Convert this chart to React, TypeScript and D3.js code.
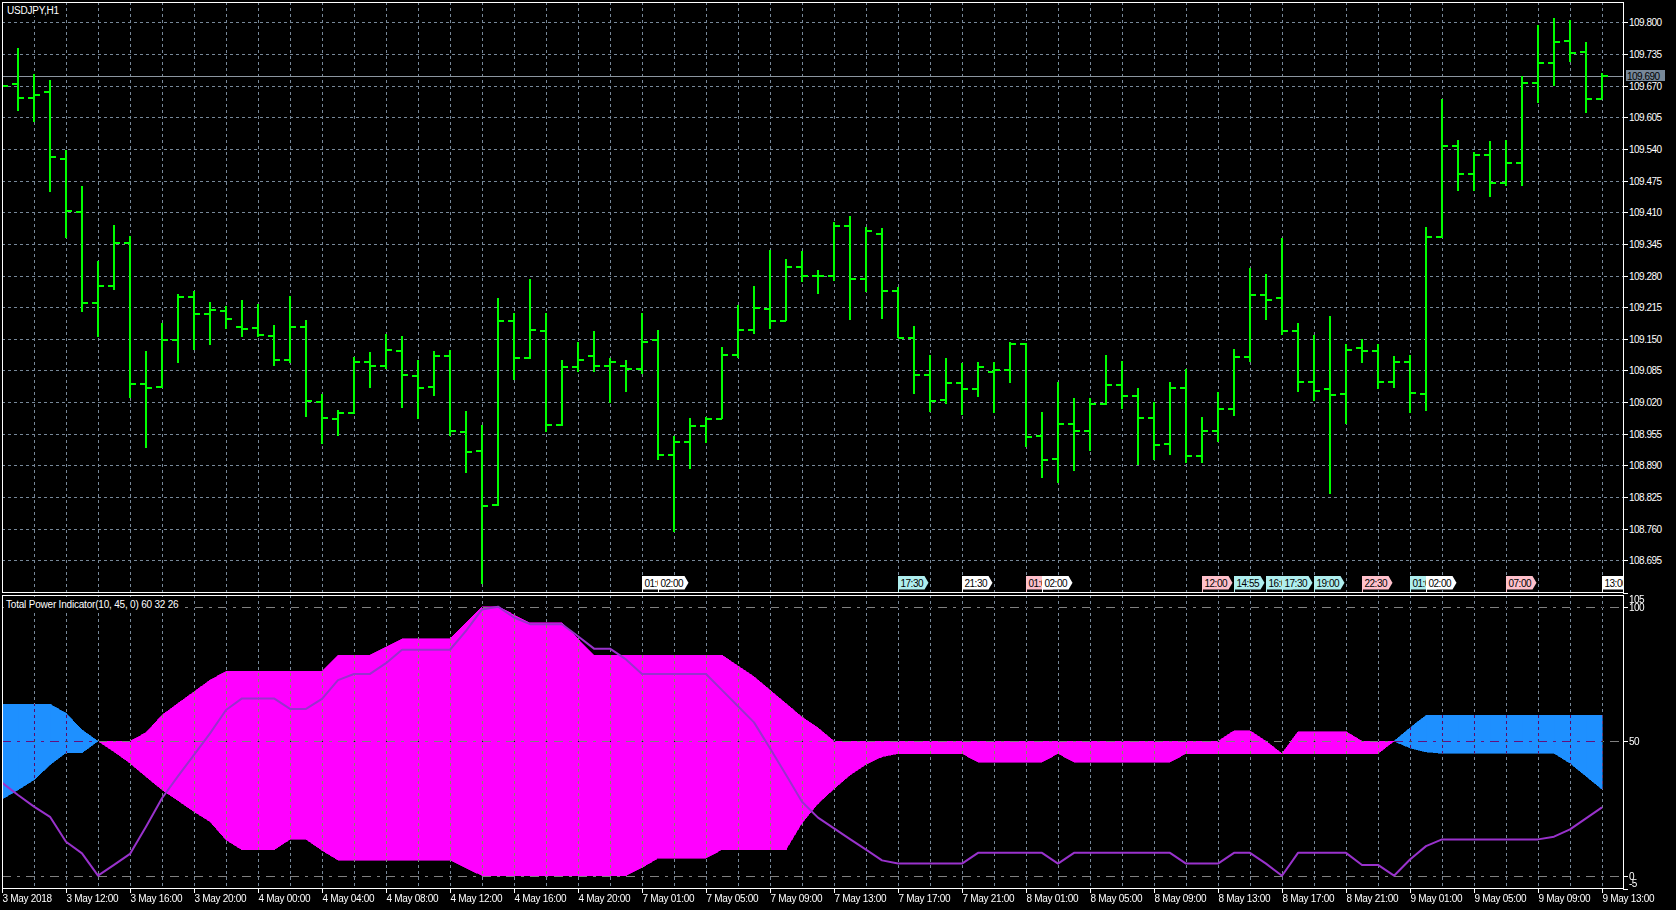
import React from "react";
import * as d3 from "d3";

// ---------- price data (USDJPY H1, 101 bars) ----------
const opens = [109.668,109.673,109.644,109.658,109.520,109.411,109.224,109.259,109.347,109.057,109.051,109.147,109.236,109.201,109.207,109.175,109.173,109.156,109.106,109.175,109.021,108.986,108.997,109.103,109.094,109.125,109.074,109.051,109.115,108.959,108.920,108.808,109.186,109.111,109.166,108.973,109.093,109.115,109.094,109.094,109.088,109.147,108.911,108.939,108.970,108.986,109.117,109.168,109.212,109.187,109.298,109.280,109.280,109.381,109.272,109.366,109.248,109.152,109.075,109.024,109.059,109.046,109.082,109.086,109.139,108.951,108.903,108.975,108.961,109.016,109.055,109.033,108.988,108.934,109.049,108.910,108.960,109.005,109.112,109.241,109.234,109.167,109.062,109.046,109.037,109.132,109.125,109.061,109.102,109.036,109.359,109.547,109.489,109.527,109.470,109.511,109.676,109.716,109.761,109.740,109.643];
const highs = [109.690,109.747,109.694,109.682,109.537,109.465,109.309,109.383,109.361,109.125,109.183,109.243,109.249,109.225,109.218,109.229,109.222,109.178,109.238,109.188,109.037,109.004,109.113,109.123,109.161,109.156,109.106,109.125,109.128,109.002,108.973,109.233,109.204,109.274,109.204,109.106,109.143,109.166,109.110,109.106,109.204,109.169,108.950,108.987,108.990,109.134,109.219,109.258,109.332,109.315,109.331,109.292,109.390,109.402,109.380,109.378,109.257,109.177,109.116,109.110,109.101,109.103,109.103,109.144,109.141,109.000,109.061,109.028,109.028,109.116,109.105,109.049,109.020,109.061,109.088,108.989,109.040,109.130,109.295,109.284,109.357,109.183,109.158,109.196,109.139,109.150,109.139,109.114,109.117,109.380,109.643,109.558,109.533,109.556,109.558,109.691,109.795,109.810,109.805,109.760,109.697];
const lows = [109.655,109.619,109.596,109.452,109.357,109.205,109.154,109.251,109.028,108.926,109.050,109.101,109.127,109.137,109.171,109.154,109.154,109.095,109.100,108.990,108.933,108.951,108.995,109.050,109.089,109.007,108.985,109.033,108.951,108.874,108.647,108.807,109.065,109.108,108.958,108.971,109.082,109.082,109.019,109.040,109.078,108.901,108.754,108.883,108.937,108.986,109.110,109.161,109.171,109.187,109.267,109.242,109.268,109.189,109.247,109.191,109.152,109.037,108.999,109.016,108.993,109.031,108.998,109.059,108.927,108.865,108.854,108.879,108.920,109.015,109.005,108.890,108.901,108.912,108.895,108.894,108.939,108.991,109.103,109.188,109.158,109.041,109.022,108.832,108.976,109.101,109.046,109.049,108.998,109.002,109.357,109.453,109.453,109.442,109.465,109.465,109.634,109.669,109.718,109.615,109.643];
const closes = [109.669,109.644,109.652,109.524,109.412,109.224,109.259,109.347,109.057,109.050,109.147,109.236,109.201,109.209,109.191,109.171,109.158,109.106,109.175,109.023,108.987,108.997,109.103,109.094,109.127,109.075,109.050,109.115,108.961,108.918,108.807,109.187,109.111,109.168,108.973,109.093,109.106,109.094,109.103,109.088,109.143,108.911,108.939,108.971,108.986,109.117,109.168,109.214,109.187,109.298,109.279,109.280,109.381,109.274,109.371,109.248,109.152,109.075,109.022,109.059,109.046,109.092,109.086,109.139,108.949,108.901,108.975,108.960,109.016,109.055,109.033,108.988,108.932,109.049,108.910,108.960,109.005,109.112,109.241,109.229,109.167,109.062,109.043,109.035,109.128,109.125,109.061,109.102,109.038,109.359,109.547,109.489,109.527,109.470,109.511,109.676,109.716,109.760,109.738,109.643,109.690];
const currentPrice = 109.690;

// ---------- indicator data ----------
const bulls = [63.8,63.8,63.8,63.8,60.4,54.2,50,46.1,41.8,36.8,31.9,27.9,23.8,20.1,13.3,9.6,9.6,9.6,13.5,13.5,9.4,5.8,5.8,5.8,5.8,5.8,5.8,5.8,5.8,2.9,0,0,0,0,0,0,0,0,0,0,3,6.5,6.5,6.5,6.5,9.7,9.7,9.7,9.7,9.7,19.6,26.8,32.3,37.4,41.4,44.2,45.4,45.4,45.4,45.4,45.4,42.2,42.2,42.2,42.2,42.2,45.4,42.2,42.2,42.2,42.2,42.2,42.2,42.2,45.4,45.4,45.4,45.4,45.4,45.4,45.4,45.4,45.4,45.4,45.4,45.4,45.4,50,55,59.6,59.6,59.6,59.6,59.6,59.6,59.6,59.6,59.6,59.6,59.6,59.6];
const bears = [28.4,31.9,35.6,41.2,45.7,45.7,50,50,50,53.2,59.7,64.1,68.4,72.7,76,76,76,76,76,76,76,82,82,82,85,88,88,88,88,94,100,100,97,94,94,94,88,82,82,82,82,82,82,82,82,82,78,74,69,64,59,55,50,50,50,50,50,50,50,50,50,50,50,50,50,50,50,50,50,50,50,50,50,50,50,50,50,53.9,53.9,50,45.4,53.6,53.6,53.6,53.6,50,50,50,47.5,46,45.5,45.5,45.5,45.5,45.5,45.5,45.5,45.5,41.8,37,32.1];
const power = [34.6,30,25.7,21.9,12.6,8.3,0,4,8.1,18.2,28.8,37,44.9,52.9,61.6,65.9,65.9,65.9,62,62,65.7,72.7,75,75,79,84,84,84,84,91,99,100,96,93.5,93.5,93.5,89,84.4,84.4,80.4,75,75,75,75,75,69,63,57,47.4,37.5,27.5,21.6,17.6,13.6,9.7,5.7,4.5,4.5,4.5,4.5,4.5,8.5,8.5,8.5,8.5,8.5,4.5,8.5,8.5,8.5,8.5,8.5,8.5,8.5,4.5,4.5,4.5,8.5,8.5,4.5,0,8.5,8.5,8.5,8.5,4,4,0,6,11,13.5,13.5,13.5,13.5,13.5,13.5,13.5,14.5,17.2,21.3,25.4];

// ---------- axis labels ----------
const timeLabels = ["3 May 2018","3 May 12:00","3 May 16:00","3 May 20:00","4 May 00:00","4 May 04:00","4 May 08:00","4 May 12:00","4 May 16:00","4 May 20:00","7 May 01:00","7 May 05:00","7 May 09:00","7 May 13:00","7 May 17:00","7 May 21:00","8 May 01:00","8 May 05:00","8 May 09:00","8 May 13:00","8 May 17:00","8 May 21:00","9 May 01:00","9 May 05:00","9 May 09:00","9 May 13:00"];
const priceTicks = [109.800,109.735,109.670,109.605,109.540,109.475,109.410,109.345,109.280,109.215,109.150,109.085,109.020,108.955,108.890,108.825,108.760,108.695];
const indTicks = [105,100,50,0,-5];
const levels = [100,50,0];

// ---------- event markers ----------
const eventBars = [40,41,56,60,64,65,75,77,79,80,82,85,88,89,94,100];
const eventTexts = ["01:00","02:00","17:30","21:30","01:00","02:00","12:00","14:55","16:00","17:30","19:00","22:30","01:00","02:00","07:00","13:00"];
const eventKinds = ["w","w","c","w","p","w","p","c","c","c","c","p","c","w","p","w"];

const KIND_COL: Record<string, string> = { w: "#ffffff", c: "#afeeee", p: "#ffc0cb" };

const PL = 2, PR = 1623, PT = 2, PB = 592, IT = 595, IB = 888;
const GRID = "#778899";
const BLUE = "#1e90ff";
const MAG = "#ff00ff";

export default function App() {
  const x = d3.scaleLinear().domain([0, 100]).range([2, 1602]);
  const yP = d3.scaleLinear().domain([108.6299, 109.8421]).range([592, 2]);
  const yI = d3.scaleLinear().domain([-5, 105]).range([889.15, 593.25]);

  const gridX = d3.range(2, 101, 2).map((b) => Math.round(x(b)) + 0.5);

  // indicator fill polygons
  const polys: { d: string; c: string }[] = [];
  for (let k = 0; k < bulls.length - 1; k++) {
    const d0 = bulls[k] - bears[k];
    const d1 = bulls[k + 1] - bears[k + 1];
    const x0 = x(k), x1 = x(k + 1);
    if (d0 * d1 >= 0) {
      if (d0 === 0 && d1 === 0) continue;
      const c = d0 + d1 > 0 ? BLUE : MAG;
      const pts: [number, number][] = [
        [x0, yI(bulls[k])], [x1, yI(bulls[k + 1])], [x1, yI(bears[k + 1])], [x0, yI(bears[k])],
      ];
      polys.push({ d: "M" + pts.map((p) => p.join(",")).join("L") + "Z", c });
    } else {
      const t = d0 / (d0 - d1);
      const xm = x0 + t * (x1 - x0);
      const vm = bulls[k] + t * (bulls[k + 1] - bulls[k]);
      const a: [number, number][] = [[x0, yI(bulls[k])], [xm, yI(vm)], [x0, yI(bears[k])]];
      const b: [number, number][] = [[xm, yI(vm)], [x1, yI(bulls[k + 1])], [x1, yI(bears[k + 1])]];
      polys.push({ d: "M" + a.map((p) => p.join(",")).join("L") + "Z", c: d0 > 0 ? BLUE : MAG });
      polys.push({ d: "M" + b.map((p) => p.join(",")).join("L") + "Z", c: d1 > 0 ? BLUE : MAG });
    }
  }

  const powerLine = d3
    .line<number>()
    .x((_, i) => x(i))
    .y((v) => yI(v))(power) as string;

  const font = "'Liberation Sans', Arial, sans-serif";

  return (
    <div style={{ position: "absolute", left: 0, top: 0 }}>
      <svg width={1676} height={910} style={{ display: "block", background: "#000" }} fontFamily={font} fontSize={10}>
        <defs>
          <clipPath id="pclip">
            <rect x={PL} y={PT} width={PR - PL} height={PB - PT} />
          </clipPath>
          <clipPath id="iclip">
            <rect x={PL} y={IT} width={PR - PL} height={IB - IT} />
          </clipPath>
        </defs>
        <rect x={0} y={0} width={1676} height={910} fill="#000" />

        {/* ---------- price pane ---------- */}
        <g clipPath="url(#pclip)">
          <g stroke={GRID} strokeWidth={1} strokeDasharray="3,3" shapeRendering="crispEdges">
            {gridX.map((gx, i) => (
              <line key={"vx" + i} x1={gx} x2={gx} y1={PT} y2={PB} />
            ))}
            {priceTicks.map((t, i) => {
              const yy = Math.round(yP(t)) + 0.5;
              return <line key={"hy" + i} x1={PL} x2={PR} y1={yy} y2={yy} />;
            })}
          </g>
          <line x1={PL} x2={PR} y1={Math.round(yP(currentPrice)) + 0.5} y2={Math.round(yP(currentPrice)) + 0.5} stroke="#8c96a0" strokeWidth={1} shapeRendering="crispEdges" />
          <g fill="#00ff00" shapeRendering="crispEdges">
            {opens.map((o, k) => {
              const cx = Math.round(x(k));
              const yh = Math.round(yP(highs[k]));
              const yl = Math.round(yP(lows[k]));
              const yo = Math.round(yP(o));
              const yc = Math.round(yP(closes[k]));
              return (
                <g key={"b" + k}>
                  <rect x={cx - 1} y={yh} width={2} height={Math.max(2, yl - yh)} />
                  <rect x={cx - 6} y={yo - 1} width={6} height={2} />
                  <rect x={cx} y={yc - 1} width={6} height={2} />
                </g>
              );
            })}
          </g>
          {/* event markers */}
          <g>
            {eventBars.map((b, i) => {
              const bx = Math.round(x(b)) + 0.5;
              const top = 576, bot = 589.5, w = 26;
              const col = KIND_COL[eventKinds[i]];
              return (
                <g key={"ev" + i}>
                  <path d={`M${bx},${top}H${bx + w}L${bx + w + 4},${(top + bot) / 2}L${bx + w},${bot}H${bx}Z`} fill={col} />
                  <line x1={bx} x2={bx} y1={top} y2={PB} stroke={col} strokeWidth={1} />
                  <text x={bx + 2} y={586.5} fill="#000" letterSpacing="-0.5">{eventTexts[i]}</text>
                </g>
              );
            })}
          </g>
          <rect x={4} y={3} width={58} height={13} fill="#000" />
          <text x={7} y={13.5} fill="#fff" letterSpacing="-0.2">USDJPY,H1</text>
        </g>
        <rect x={PL + 0.5} y={PT + 0.5} width={PR - PL} height={PB - PT} fill="none" stroke="#fff" strokeWidth={1} shapeRendering="crispEdges" />

        {/* price axis */}
        <g fill="#fff" letterSpacing="-0.5">
          {priceTicks.map((t, i) => {
            const yy = Math.round(yP(t)) + 0.5;
            return (
              <g key={"pt" + i}>
                <line x1={PR} x2={PR + 5} y1={yy} y2={yy} stroke="#fff" shapeRendering="crispEdges" />
                <text x={PR + 6} y={yy} dy="0.35em">{t.toFixed(3)}</text>
              </g>
            );
          })}
        </g>
        <rect x={1626} y={70} width={39} height={11} fill="#778899" />
        <text x={1627} y={yP(currentPrice)} dy="0.35em" fill="#000" letterSpacing="-0.5">{currentPrice.toFixed(3)}</text>

        {/* ---------- indicator pane ---------- */}
        <g clipPath="url(#iclip)">
          <g shapeRendering="crispEdges">
            {polys.map((p, i) => (
              <path key={"pf" + i} d={p.d} fill={p.c} stroke={p.c} strokeWidth={0.6} />
            ))}
          </g>
          <g stroke={GRID} strokeWidth={1} strokeDasharray="3,3" shapeRendering="crispEdges" style={{ mixBlendMode: "difference" }}>
            {gridX.map((gx, i) => (
              <line key={"ivx" + i} x1={gx} x2={gx} y1={IT} y2={IB} />
            ))}
          </g>
          <g stroke="#808080" strokeWidth={1} strokeDasharray="9,6,3,6" shapeRendering="crispEdges" style={{ mixBlendMode: "difference" }}>
            {levels.map((l, i) => {
              const yy = Math.round(yI(l)) + 0.5;
              return <line key={"lv" + i} x1={PL} x2={PR} y1={yy} y2={yy} />;
            })}
          </g>
          <path d={powerLine} fill="none" stroke="#9932cc" strokeWidth={2} strokeLinejoin="round" />
          <rect x={4} y={597} width={181} height={13} fill="#000" />
          <text x={6} y={607.5} fill="#fff" letterSpacing="-0.2">Total Power Indicator(10, 45, 0) 60 32 26</text>
        </g>
        <rect x={PL + 0.5} y={IT + 0.5} width={PR - PL} height={IB - IT} fill="none" stroke="#fff" strokeWidth={1} shapeRendering="crispEdges" />

        {/* indicator axis */}
        <g fill="#fff" letterSpacing="-0.5">
          {indTicks.map((t, i) => {
            const yy = Math.round(yI(t)) + 0.5;
            const ty = Math.min(Math.max(yy, 599.3), 883.3);
            return (
              <g key={"it" + i}>
                <line x1={PR} x2={PR + 5} y1={yy} y2={yy} stroke="#fff" shapeRendering="crispEdges" />
                <text x={PR + 6} y={ty} dy="0.35em">{t}</text>
              </g>
            );
          })}
        </g>

        {/* time axis */}
        <g fill="#fff" letterSpacing="-0.3">
          {timeLabels.map((lab, j) => {
            const tx = Math.round(x(j * 4)) + 0.5;
            return (
              <g key={"tl" + j}>
                <line x1={tx} x2={tx} y1={IB} y2={IB + 5} stroke="#fff" shapeRendering="crispEdges" />
                <text x={tx} y={902}>{lab}</text>
              </g>
            );
          })}
        </g>
      </svg>
    </div>
  );
}
